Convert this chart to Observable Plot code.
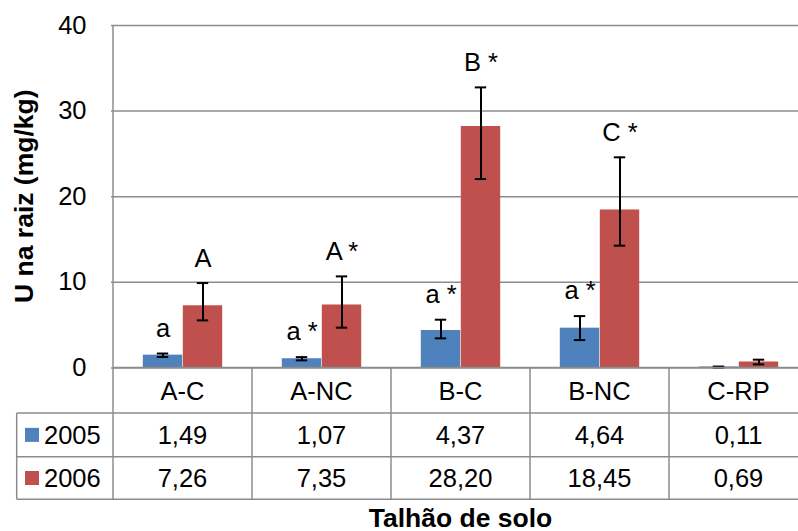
<!DOCTYPE html>
<html><head><meta charset="utf-8">
<script src="https://cdn.jsdelivr.net/npm/d3@7"></script>
<script src="https://cdn.jsdelivr.net/npm/@observablehq/plot@0.6"></script>
<style>body{margin:0;background:#fff;} #chart svg{display:block;}</style>
</head><body><div id="chart"></div>
<script>
// ---- data ----
const categories = ["A-C", "A-NC", "B-C", "B-NC", "C-RP"];
const years = ["2005", "2006"];
const values2005 = [1.49, 1.07, 4.37, 4.64, 0.11];
const values2006 = [7.26, 7.35, 28.20, 18.45, 0.69];
const errLow2005 = [1.27, 0.88, 3.45, 3.25, 0.06];
const errHigh2005 = [1.68, 1.26, 5.63, 6.05, 0.16];
const errLow2006 = [5.55, 4.70, 22.06, 14.28, 0.41];
const errHigh2006 = [9.91, 10.69, 32.77, 24.60, 0.96];
const labels2005 = ["a", "a *", "a *", "a *", ""];
const labels2006 = ["A", "A *", "B *", "C *", ""];
const yTicks = [0, 10, 20, 30, 40];
const yTitle = "U na raiz (mg/kg)";
const xTitle = "Talhão de solo";

// ---- styles ----
const blue = "#4F81BD", red = "#C0504D", gridColor = "#8C8C8C";
const font = "'Liberation Sans', Arial, sans-serif";
const fs = 25.5, fsBold = 26.5;

const rows = categories.map((c, i) => ({
  cat: c,
  v2005: values2005[i], v2006: values2006[i],
  lo2005: errLow2005[i], hi2005: errHigh2005[i],
  lo2006: errLow2006[i], hi2006: errHigh2006[i],
  l2005: labels2005[i], l2006: labels2006[i]
}));
const fmt = v => v.toFixed(2).replace(".", ",");
const seriesValues = {"2005": values2005, "2006": values2006};
const seriesColors = {"2005": blue, "2006": red};

const BW = (809 - 111) / categories.length;

function dataTable(index, scales, values, dims) {
  const x = scales.x, y = scales.y, bw = x.bandwidth();
  const left = x(categories[0]);
  const right = dims.width;
  const top = y(0);
  const rowY = [top, top + 45.6, top + 89.3, top + 131.9];
  const legendLeft = 16.7;
  const g = d3.create("svg:g").attr("font-family", font);
  const line = (x1, y1, x2, y2, w) => g.append("line")
    .attr("x1", x1).attr("y1", y1).attr("x2", x2).attr("y2", y2)
    .attr("stroke", gridColor).attr("stroke-width", w || 1.5);
  // axis line + table borders
  line(left, y(40), left, rowY[3]);
  line(left, rowY[0], right, rowY[0]);
  for (let r = 1; r <= 3; r++) line(legendLeft, rowY[r], right, rowY[r]);
  line(legendLeft, rowY[1], legendLeft, rowY[3]);
  categories.forEach(c => line(x(c) + bw, rowY[0], x(c) + bw, rowY[3]));
  const text = (t, tx, ty, anchor) => g.append("text").attr("x", tx).attr("y", ty)
      .attr("text-anchor", anchor).attr("dy", "0.35em")
      .attr("font-size", fs).attr("fill", "black").text(t);
  categories.forEach((c, i) => {
    const cx = x(c) + bw / 2;
    text(c, cx, (rowY[0] + rowY[1]) / 2 + 1, "middle");
    years.forEach((yr, j) => {
      text(fmt(seriesValues[yr][i]), cx, (rowY[j + 1] + rowY[j + 2]) / 2, "middle");
    });
  });
  years.forEach((yr, j) => {
    const cy = (rowY[j + 1] + rowY[j + 2]) / 2;
    g.append("rect").attr("x", 25).attr("y", cy - 7).attr("width", 14).attr("height", 14)
      .attr("fill", seriesColors[yr]);
    text(yr, 44, cy, "start");
  });
  // axis titles
  const xc = (x(categories[0]) + x(categories[categories.length - 1]) + bw) / 2;
  g.append("text").attr("x", xc).attr("y", dims.height - 4.5).attr("text-anchor", "middle")
    .attr("font-size", fsBold).attr("font-weight", "bold").attr("fill", "black").text(xTitle);
  const yc = (y(0) + y(40)) / 2;
  g.append("text").attr("transform", `translate(32.5,${yc}) rotate(-90)`).attr("text-anchor", "middle")
    .attr("font-size", fsBold).attr("font-weight", "bold").attr("fill", "black").text(yTitle);
  return g.node();
}

const barW = 40, groupOff = (BW - 2 * barW) / 2, capW = 12;
const c05 = groupOff + barW / 2, c06 = groupOff + barW * 1.5;

const plot = Plot.plot({
  width: 798, height: 531,
  marginLeft: 111, marginRight: 0, marginTop: 25, marginBottom: 531 - 367.4,
  style: {fontFamily: font, fontSize: fs + "px", color: "black", background: "white", overflow: "hidden"},
  x: {domain: categories, range: [111, 809], padding: 0, axis: null},
  y: {domain: [0, 40], range: [367.4, 25]},
  marks: [
    Plot.gridY({ticks: yTicks, stroke: gridColor, strokeOpacity: 1, strokeWidth: 1.5}),
    Plot.axisY({ticks: yTicks, tickSize: 0, tickPadding: 25, fontSize: fs, label: null}),
    Plot.barY(rows, {x: "cat", y: "v2005", fill: blue, insetLeft: groupOff, insetRight: BW - groupOff - barW}),
    Plot.barY(rows, {x: "cat", y: "v2006", fill: red, insetLeft: groupOff + barW, insetRight: groupOff}),
    Plot.ruleX(rows, {x: "cat", y1: "lo2005", y2: "hi2005", dx: c05 - BW / 2, stroke: "black", strokeWidth: 2}),
    Plot.ruleX(rows, {x: "cat", y1: "lo2006", y2: "hi2006", dx: c06 - BW / 2, stroke: "black", strokeWidth: 2}),
    ...["lo2005", "hi2005"].map(k => Plot.tickY(rows, {x: "cat", y: k, stroke: "black", strokeWidth: 2,
      insetLeft: c05 - capW / 2, insetRight: BW - c05 - capW / 2})),
    ...["lo2006", "hi2006"].map(k => Plot.tickY(rows, {x: "cat", y: k, stroke: "black", strokeWidth: 2,
      insetLeft: c06 - capW / 2, insetRight: BW - c06 - capW / 2})),
    Plot.text(rows, {x: "cat", y: "hi2005", text: "l2005", dx: c05 - BW / 2, dy: -17, lineAnchor: "bottom", fontSize: fs, fill: "black"}),
    Plot.text(rows, {x: "cat", y: "hi2006", text: "l2006", dx: c06 - BW / 2, dy: -16, lineAnchor: "bottom", fontSize: fs, fill: "black"}),
    dataTable
  ]
});
document.getElementById("chart").appendChild(plot);
</script>
</body></html>
